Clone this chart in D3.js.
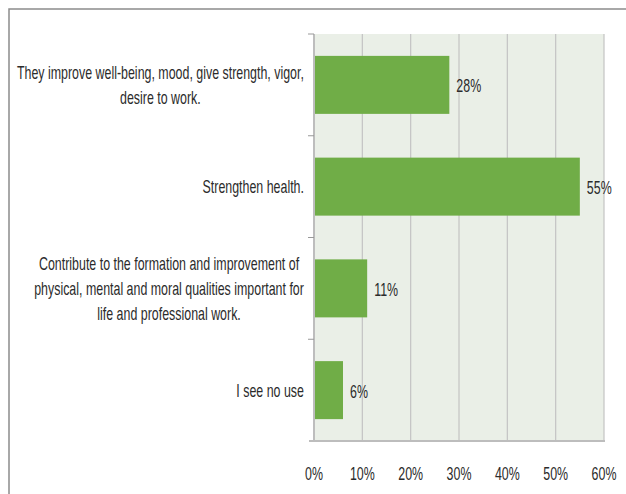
<!DOCTYPE html>
<html><head><meta charset="utf-8">
<script src="https://cdn.jsdelivr.net/npm/d3@7"></script>
<style>html,body{margin:0;padding:0;background:#fff;}svg{display:block;}</style>
</head><body>
<svg id="c" width="626" height="494"></svg>
<script>
const categories = [
  ["They improve well-being, mood, give strength, vigor,", "desire to work."],
  ["Strengthen health."],
  ["Contribute to the formation and improvement of", "physical, mental and moral qualities important for", "life and professional work."],
  ["I see no use"]
];
const values = [0.28, 0.55, 0.11, 0.06];
const valueLabels = ["28%", "55%", "11%", "6%"];
const tickValues = [0, 0.1, 0.2, 0.3, 0.4, 0.5, 0.6];

const FONT = "'Liberation Sans Narrow','Liberation Sans',Arial,sans-serif";
const FS = 18, SX = 0.69, TXT = "#2b2b2b";
const svg = d3.select("#c");
const M = {left:314, right:604, top:34, bottom:441};

const x = d3.scaleLinear().domain([0, 0.6]).range([M.left, M.right]);
const y = d3.scaleBand().domain(d3.range(categories.length)).range([M.top, M.bottom]).paddingInner(0.43).paddingOuter(0.215);

// outer border
svg.append("path").attr("d", "M9,494V9H626").attr("fill","none").attr("stroke","#8c8c8c").attr("stroke-width",1.5);

// plot bg
svg.append("rect").attr("x", M.left).attr("y", M.top).attr("width", M.right-M.left).attr("height", M.bottom-M.top).attr("fill", "#EAEFE7");

// grid
svg.append("g").selectAll("line").data(tickValues.slice(1)).join("line")
  .attr("x1", d=>x(d)).attr("x2", d=>x(d)).attr("y1", M.top).attr("y2", M.bottom)
  .attr("stroke", "#c3c3c3").attr("stroke-width", 1.2);

// bars
svg.append("g").selectAll("rect").data(values).join("rect")
  .attr("x", x(0)).attr("y", (d,i)=>y(i)).attr("width", d=>x(d)-x(0)).attr("height", y.bandwidth())
  .attr("fill", "#70AD47");

// axes lines
const step = y.step();
svg.append("line").attr("x1", M.left).attr("x2", M.left).attr("y1", M.top).attr("y2", M.bottom).attr("stroke","#bdbdbd").attr("stroke-width",2);
svg.append("line").attr("x1", M.left-5).attr("x2", M.right+1).attr("y1", M.bottom).attr("y2", M.bottom).attr("stroke","#bdbdbd").attr("stroke-width",2);
svg.append("g").selectAll("line").data(d3.range(categories.length)).join("line")
  .attr("x1", M.left-6).attr("x2", M.left).attr("y1", (d,i)=>M.top + i*step).attr("y2", (d,i)=>M.top + i*step)
  .attr("stroke","#999").attr("stroke-width",1);

function txt(g, s, tx, ty, anchor){
  return g.append("g").attr("transform", `translate(${tx},${ty}) scale(${SX},1)`)
    .append("text").text(s).attr("font-family", FONT).attr("font-size", FS).attr("fill", TXT)
    .attr("text-anchor", anchor).attr("dominant-baseline", "central");
}

// category labels
const lg = svg.append("g");
const LH = 25;
categories.forEach((lines, i) => {
  const cy = y(i) + y.bandwidth()/2;
  const tmp = lg.append("text").attr("font-family", FONT).attr("font-size", FS);
  let maxW = 0;
  lines.forEach(l => { tmp.text(l); maxW = Math.max(maxW, tmp.node().getComputedTextLength()*SX); });
  tmp.remove();
  const cx = 304 - maxW/2;
  lines.forEach((l, j) => {
    txt(lg, l, cx, cy + (j - (lines.length-1)/2)*LH, "middle");
  });
});

// value labels
const vg = svg.append("g");
values.forEach((v, i) => {
  txt(vg, valueLabels[i], x(v) + 7, y(i) + y.bandwidth()/2 + 1, "start");
});

// x tick labels
const tg = svg.append("g");
tickValues.forEach(t => {
  txt(tg, d3.format(".0%")(t), x(t), 474, "middle");
});
</script>
</body></html>
